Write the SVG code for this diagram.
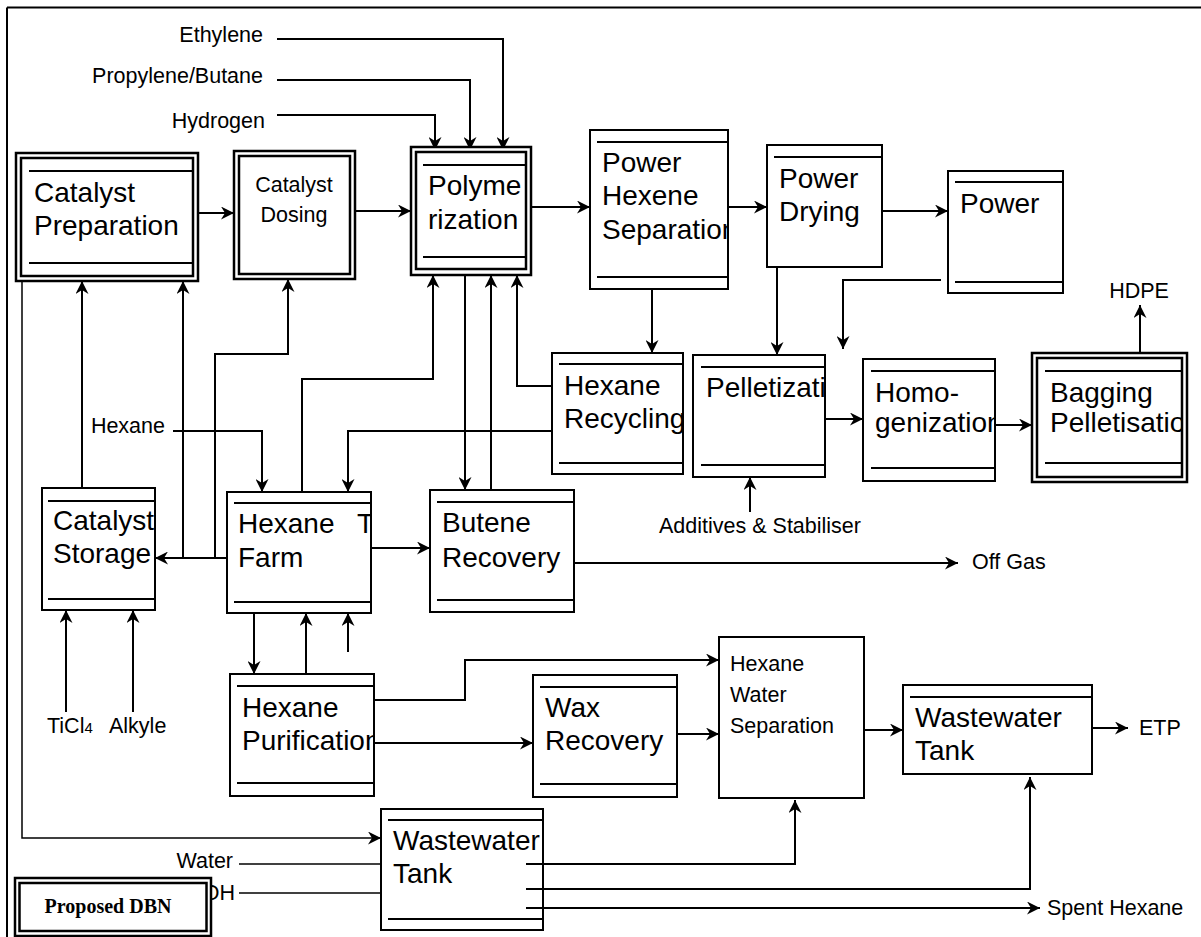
<svg xmlns="http://www.w3.org/2000/svg" width="1201" height="937" viewBox="0 0 1201 937">
<style>
.bx{fill:#fff;stroke:#000;stroke-width:2}
.bo{fill:#fff;stroke:#000;stroke-width:2.5}
.bi{fill:none;stroke:#000;stroke-width:2.5}
.hl{stroke:#000;stroke-width:2.2;fill:none}
.c{fill:none;stroke:#000;stroke-width:2}
.thin{fill:none;stroke:#000;stroke-width:1.5}
.a{marker-end:url(#ah)}
text{font-family:"Liberation Sans",Arial,sans-serif;fill:#000}
.t{font-size:28px}
.s{font-size:21.5px}
.leg{font-family:"Liberation Serif","Times New Roman",serif;font-weight:bold;font-size:20px}
</style>
<defs>
<marker id="ah" markerUnits="userSpaceOnUse" markerWidth="14" markerHeight="13" refX="13" refY="6.5" orient="auto">
<path d="M0,0 L13,6.5 L0,13 L4,6.5 Z" fill="#000"/>
</marker>
<clipPath id="cPHS"><rect x="590" y="130" width="138" height="159"/></clipPath>
<clipPath id="cCS"><rect x="42" y="488" width="113" height="122"/></clipPath>
<clipPath id="cHT"><rect x="227" y="492" width="144" height="121"/></clipPath>
<clipPath id="cHR"><rect x="552" y="353" width="131" height="121"/></clipPath>
<clipPath id="cPE"><rect x="693" y="355" width="132" height="122"/></clipPath>
<clipPath id="cHO"><rect x="863" y="359" width="132" height="122"/></clipPath>
<clipPath id="cBA"><rect x="1037" y="358" width="145" height="119"/></clipPath>
<clipPath id="cHP"><rect x="230" y="674" width="144" height="122"/></clipPath>
<clipPath id="cWR"><rect x="533" y="675" width="144" height="122"/></clipPath>
</defs>
<rect width="1201" height="937" fill="#fff"/>
<path d="M7,7.5 H1201 M7,7.5 V937" stroke="#000" stroke-width="2" fill="none"/>

<g id="connectors">
<path class="c a" d="M277,39 H503 V150"/>
<path class="c a" d="M277,80 H470 V150"/>
<path class="c a" d="M277,115 H435 V150"/>
<path class="c a" d="M198,213 H234"/>
<path class="c a" d="M355,211 H411"/>
<path class="c a" d="M531,207 H590"/>
<path class="c a" d="M728,207 H767"/>
<path class="c a" d="M882,211 H948"/>
<path class="c a" d="M777,267 V355"/>
<path class="c a" d="M941,280 H843 V349"/>
<path class="c a" d="M652,289 V353"/>
<path class="c a" d="M552,386 H517 V275"/>
<path class="c a" d="M552,431 H348 V492"/>
<path class="c a" d="M465,275 V490"/>
<path class="c a" d="M491,490 V275"/>
<path class="c a" d="M302,492 V379 H433 V275"/>
<path class="c a" d="M173,431 H262 V492"/>
<path class="c a" d="M227,558 H155"/>
<path class="c a" d="M183,558 V281"/>
<path class="c a" d="M215,558 V354 H288 V279"/>
<path class="c a" d="M82,488 V281"/>
<path class="c a" d="M66,712 V610"/>
<path class="c a" d="M133,712 V610"/>
<path class="c a" d="M254,613 V674"/>
<path class="c a" d="M306,674 V613"/>
<path class="c a" d="M348,652 V613"/>
<path class="c a" d="M371,548 H430"/>
<path class="c a" d="M574,563 H958"/>
<path class="c a" d="M750,512 V477"/>
<path class="c a" d="M825,419 H863"/>
<path class="c a" d="M995,425 H1032"/>
<path class="c a" d="M1140,353 V305"/>
<path class="c a" d="M374,700 H465 V660 H719"/>
<path class="c a" d="M374,743 H533"/>
<path class="c a" d="M677,734 H719"/>
<path class="c a" d="M864,730 H903"/>
<path class="c a" d="M1082,728 H1128"/>
<path class="thin a" d="M22,281 V838 H381"/>
<path class="thin" d="M239,864 H381"/>
<path class="thin" d="M239,893 H381"/>
<path class="c a" d="M526,864 H795 V800"/>
<path class="c a" d="M526,889 H1030 V777"/>
<path class="c a" d="M526,908 H1040"/>
</g>

<g id="labels">
<text class="s" x="263" y="42" text-anchor="end">Ethylene</text>
<text class="s" x="263" y="83" text-anchor="end">Propylene/Butane</text>
<text class="s" x="265" y="128" text-anchor="end">Hydrogen</text>
<text class="s" x="165" y="433" text-anchor="end">Hexane</text>
<text class="s" x="760" y="533" text-anchor="middle">Additives &amp; Stabiliser</text>
<text class="s" x="972" y="569">Off Gas</text>
<text class="s" x="1139" y="298" text-anchor="middle">HDPE</text>
<text class="s" x="47" y="733">TiCl<tspan font-size="15px">4</tspan></text>
<text class="s" x="109" y="733">Alkyle</text>
<text class="s" x="233" y="868" text-anchor="end">Water</text>
<text class="s" x="235" y="900" text-anchor="end">OH</text>
<text class="s" x="1139" y="735">ETP</text>
<text class="s" x="1047" y="915">Spent Hexane</text>
</g>

<g id="catalyst-preparation">
<rect class="bo" x="16" y="153" width="182" height="128"/>
<rect class="bi" x="21" y="158" width="172" height="118"/>
<path class="hl" d="M29,171 H193 M29,263 H193"/>
<text class="t" x="34" y="202">Catalyst</text>
<text class="t" x="34" y="235">Preparation</text>
</g>

<g id="catalyst-dosing">
<rect class="bo" x="234" y="151" width="121" height="128"/>
<rect class="bi" x="239" y="156" width="111" height="118"/>
<text class="s" x="294" y="192" text-anchor="middle">Catalyst</text>
<text class="s" x="294" y="222" text-anchor="middle">Dosing</text>
</g>

<g id="polymerization">
<rect class="bo" x="411" y="147" width="120" height="128"/>
<rect class="bi" x="416" y="152" width="110" height="117"/>
<path class="hl" d="M423,165 H526 M423,257 H526"/>
<text class="t" x="428" y="195">Polyme</text>
<text class="t" x="428" y="229">rization</text>
</g>

<g id="power-hexene-separation">
<rect class="bx" x="590" y="130" width="138" height="159"/>
<path class="hl" d="M597,142 H728 M597,277 H728"/>
<g clip-path="url(#cPHS)">
<text class="t" x="602" y="172">Power</text>
<text class="t" x="602" y="205">Hexene</text>
<text class="t" x="602" y="239">Separation</text>
</g>
</g>

<g id="power-drying">
<rect class="bx" x="767" y="145" width="115" height="122"/>
<path class="hl" d="M774,157 H882"/>
<text class="t" x="779" y="188">Power</text>
<text class="t" x="779" y="221">Drying</text>
</g>

<g id="power">
<rect class="bx" x="948" y="171" width="115" height="122"/>
<path class="hl" d="M955,182 H1063 M955,282 H1063"/>
<text class="t" x="960" y="213">Power</text>
</g>

<g id="hexane-recycling">
<rect class="bx" x="552" y="353" width="131" height="121"/>
<path class="hl" d="M559,364 H683 M559,463 H683"/>
<g clip-path="url(#cHR)">
<text class="t" x="564" y="395">Hexane</text>
<text class="t" x="564" y="428">Recycling</text>
</g>
</g>

<g id="pelletization">
<rect class="bx" x="693" y="355" width="132" height="122"/>
<path class="hl" d="M701,367 H825 M701,465 H825"/>
<g clip-path="url(#cPE)">
<text class="t" x="706" y="397">Pelletization</text>
</g>
</g>

<g id="homogenization">
<rect class="bx" x="863" y="359" width="132" height="122"/>
<path class="hl" d="M871,371 H995 M871,468 H995"/>
<g clip-path="url(#cHO)">
<text class="t" x="875" y="402">Homo-</text>
<text class="t" x="875" y="432">genization</text>
</g>
</g>

<g id="bagging-pelletisation">
<rect class="bo" x="1032" y="353" width="155" height="129"/>
<rect class="bi" x="1037" y="358" width="145" height="119"/>
<path class="hl" d="M1045,371 H1182 M1045,463 H1182"/>
<g clip-path="url(#cBA)">
<text class="t" x="1050" y="402">Bagging</text>
<text class="t" x="1050" y="432">Pelletisation</text>
</g>
</g>

<g id="catalyst-storage">
<rect class="bx" x="42" y="488" width="113" height="122"/>
<path class="hl" d="M48,501 H155 M48,599 H155"/>
<g clip-path="url(#cCS)">
<text class="t" x="53" y="530">Catalyst</text>
<text class="t" x="53" y="563">Storage</text>
</g>
</g>

<g id="hexane-tank-farm">
<rect class="bx" x="227" y="492" width="144" height="121"/>
<path class="hl" d="M234,503 H371 M234,602 H371"/>
<g clip-path="url(#cHT)">
<text class="t" x="238" y="533">Hexane<tspan x="357">T</tspan></text>
<text class="t" x="238" y="567">Farm</text>
</g>
</g>

<g id="butene-recovery">
<rect class="bx" x="430" y="490" width="144" height="122"/>
<path class="hl" d="M437,502 H574 M437,600 H574"/>
<text class="t" x="442" y="532">Butene</text>
<text class="t" x="442" y="567">Recovery</text>
</g>

<g id="hexane-purification">
<rect class="bx" x="230" y="674" width="144" height="122"/>
<path class="hl" d="M237,686 H374 M237,783 H374"/>
<g clip-path="url(#cHP)">
<text class="t" x="242" y="717">Hexane</text>
<text class="t" x="242" y="750">Purification</text>
</g>
</g>

<g id="wax-recovery">
<rect class="bx" x="533" y="675" width="144" height="122"/>
<path class="hl" d="M540,687 H677 M540,784 H677"/>
<g clip-path="url(#cWR)">
<text class="t" x="545" y="717">Wax</text>
<text class="t" x="545" y="750">Recovery</text>
</g>
</g>

<g id="hexane-water-separation">
<rect class="bx" x="719" y="637" width="145" height="161"/>
<text class="s" x="730" y="671">Hexane</text>
<text class="s" x="730" y="702">Water</text>
<text class="s" x="730" y="733">Separation</text>
</g>

<g id="wastewater-tank-right">
<rect class="bx" x="903" y="685" width="189" height="89"/>
<path class="hl" d="M910,697 H1092"/>
<text class="t" x="915" y="727">Wastewater</text>
<text class="t" x="915" y="760">Tank</text>
</g>

<g id="wastewater-tank-bottom">
<rect class="bx" x="381" y="809" width="162" height="121"/>
<path class="hl" d="M388,820 H543 M388,919 H543"/>
<text class="t" x="393" y="850">Wastewater</text>
<text class="t" x="393" y="883">Tank</text>
<path class="c" d="M526,864 H545 M526,889 H545 M526,908 H545"/>
</g>

<g id="legend">
<rect class="bo" x="15" y="878" width="196" height="58"/>
<rect class="bi" x="19.5" y="883" width="187" height="48"/>
<text class="leg" x="108" y="913" text-anchor="middle">Proposed DBN</text>
</g>
</svg>
